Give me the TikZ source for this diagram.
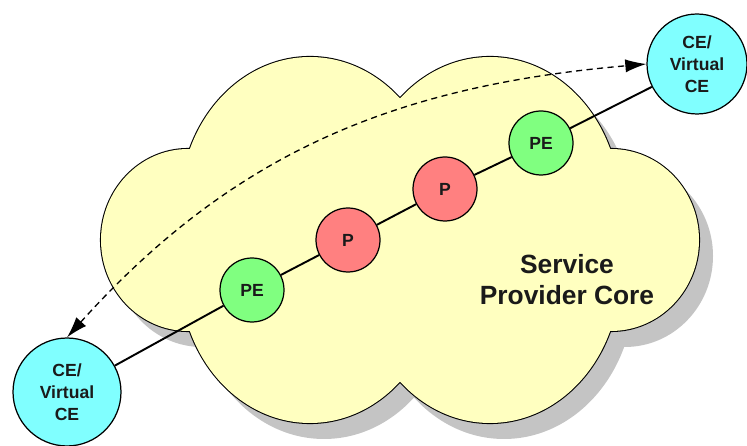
\documentclass[tikz,border=0pt]{standalone}
\usepackage{fontspec}
\setmainfont{Liberation Sans}
\usetikzlibrary{arrows.meta}
\definecolor{cloudfill}{HTML}{FFFFC0}
\definecolor{cloudshade}{HTML}{C4C4C4}
\definecolor{cefill}{HTML}{80FFFF}
\definecolor{pefill}{HTML}{80FF80}
\definecolor{pfill}{HTML}{FF8080}
\definecolor{txt}{HTML}{1A1A1A}
\newcommand*{\cloudlobes}{%
 (310,240) ellipse [x radius=130, y radius=149]
 (490,240) ellipse [x radius=130, y radius=149]
 (310,172) ellipse [x radius=130, y radius=149]
 (490,172) ellipse [x radius=130, y radius=149]
 (188,206) ellipse [x radius=87, y radius=91]
 (611,206) ellipse [x radius=88, y radius=91]}

\begin{document}
\begin{tikzpicture}[x=0.02cm, y=0.02cm, >={Latex[length=12pt, width=7.5pt]},
 router/.style={circle, draw=black, line width=0.7pt, minimum size=1.28cm, inner sep=0pt, text=txt, font=\bfseries\fontsize{10}{12}\selectfont},
 ce/.style={router, fill=cefill, minimum size=2cm, align=center, font=\bfseries\fontsize{10}{12.5}\selectfont},
 pe/.style={router, fill=pefill},
 prouter/.style={router, fill=pfill}]
 \useasboundingbox (0,0) rectangle (747,446);
 % cloud: shadow, outline, fill
 \fill[cloudshade, shift={(14,-16)}] \cloudlobes;
 \draw[line width=1.2pt] \cloudlobes;
 \fill[cloudfill] \cloudlobes;
 \node[text=txt, align=center, font=\bfseries\fontsize{15}{17.6}\selectfont] (spc) at (567,166) {Service\\Provider Core};

 \node[ce, minimum size=2.16cm] (ceL) at (67,54) {CE/\\Virtual\\CE};
 \node[ce] (ceR) at (697,382) {CE/\\Virtual\\CE};
 \node[pe] (pe1) at (252,156) {PE};
 \node[prouter] (p1) at (348,206) {P};
 \node[prouter] (p2) at (445,257) {P};
 \node[pe] (pe2) at (541,303) {PE};

 \draw[line width=1.1pt] (ceL) -- (pe1) -- (p1) -- (p2) -- (pe2) -- (ceR);
 \draw[line width=0.75pt, dash pattern=on 3.5pt off 2.5pt, <->] (ceL.north) to[out=48, in=185] (ceR.west);
\end{tikzpicture}
\end{document}
